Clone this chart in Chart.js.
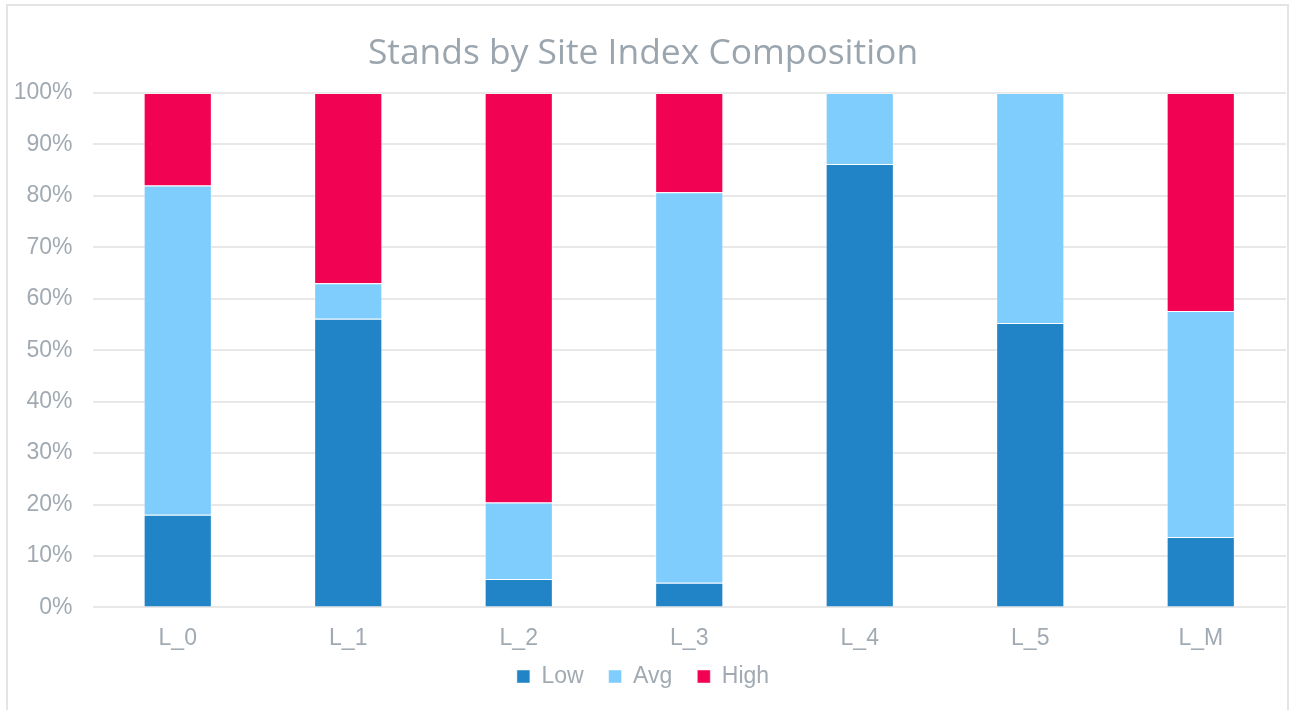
<!DOCTYPE html>
<html>
<head>
<meta charset="utf-8">
<title>Stands by Site Index Composition</title>
<script src="https://cdn.jsdelivr.net/npm/chart.js@4"></script>
<style>
  html, body { margin: 0; padding: 0; background: #fff; }
  #frame {
    position: absolute; left: 6px; top: 4px;
    width: 1279px; height: 720px;
    border: 2px solid #e4e4e4;
  }
  #chart { position: absolute; left: 0; top: 0; }
</style>
</head>
<body>
<div id="frame"></div>
<canvas id="chart" width="1289" height="710"></canvas>
<script>
// stand share per site index class (% of each L group)
const categories = ["L_0", "L_1", "L_2", "L_3", "L_4", "L_5", "L_M"];
const lowShare = [18, 56.1, 5.5, 4.8, 86.2, 55.3, 13.7];
const avgShare = [64, 6.9, 14.9, 75.9, 13.8, 44.7, 43.9];
const highShare = [18, 37, 79.6, 19.3, 0, 0, 42.4];
const yTicks = [0, 10, 20, 30, 40, 50, 60, 70, 80, 90, 100];

const textGray = "#a1aab2";
const arial = "'Liberation Sans', Arial, sans-serif";

// the x scale is fitted shorter than its labels, so widen its label clip again
const unclipLabels = {
  id: "unclipLabels",
  beforeDraw(chart) {
    chart.scales.x.bottom = chart.height;
  }
};

const ctx = document.getElementById("chart").getContext("2d");
new Chart(ctx, {
  type: "bar",
  data: {
    labels: categories,
    datasets: [
      { label: "Low", data: lowShare, backgroundColor: "#2184c6" },
      { label: "Avg", data: avgShare, backgroundColor: "#7fcdfd" },
      { label: "High", data: highShare, backgroundColor: "#f20253" }
    ].map(d => Object.assign(d, {
      borderColor: "rgba(255,255,255,0.45)",
      borderWidth: 1,
      categoryPercentage: 1,
      barPercentage: 0.4
    }))
  },
  plugins: [unclipLabels],
  options: {
    responsive: false,
    animation: false,
    layout: { padding: { left: 0, right: 3, top: 0, bottom: 12 } },
    plugins: {
      title: {
        display: true,
        text: "Stands by Site Index Composition",
        color: "#9ba5ae",
        font: { family: "'Open Sans', sans-serif", size: 35.4, weight: "normal", lineHeight: 1.2 },
        padding: { top: 33, bottom: 17.5 }
      },
      legend: {
        position: "bottom",
        labels: {
          color: textGray,
          font: { family: arial, size: 23 },
          boxWidth: 13,
          boxHeight: 13,
          padding: 25
        }
      },
      tooltip: { enabled: false }
    },
    scales: {
      x: {
        stacked: true,
        grid: { display: false },
        border: { display: false },
        // let the plot run closer to the legend
        afterFit: scale => { scale.height -= 21; },
        ticks: {
          color: textGray,
          font: { family: arial, size: 23 },
          padding: 9
        }
      },
      y: {
        stacked: true,
        min: 0,
        max: 100,
        afterFit: scale => { scale.width = 92.5; },
        afterBuildTicks: scale => { scale.ticks = yTicks.map(v => ({ value: v })); },
        grid: { color: "#e8e8e8", lineWidth: 2, drawTicks: false },
        border: { display: false },
        ticks: {
          color: textGray,
          font: { family: arial, size: 23 },
          padding: 20,
          callback: v => v + "%"
        }
      }
    }
  }
});
</script>
</body>
</html>
